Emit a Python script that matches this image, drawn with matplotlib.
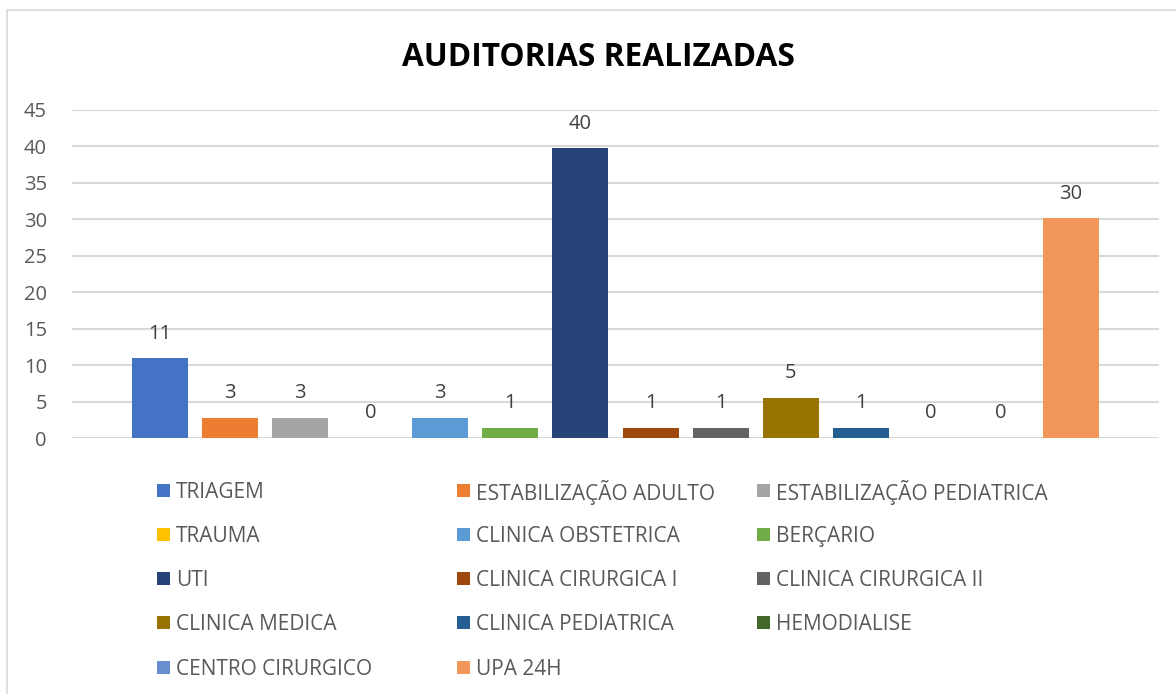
import matplotlib
matplotlib.use("Agg")
import matplotlib.pyplot as plt
from matplotlib.patches import Rectangle

categories = ["TRIAGEM", "ESTABILIZAÇÃO ADULTO", "ESTABILIZAÇÃO PEDIATRICA",
              "TRAUMA", "CLINICA OBSTETRICA", "BERÇARIO", "UTI",
              "CLINICA CIRURGICA I", "CLINICA CIRURGICA II", "CLINICA MEDICA",
              "CLINICA PEDIATRICA", "HEMODIALISE", "CENTRO CIRURGICO", "UPA 24H"]
values = [10.96, 2.74, 2.74, 0, 2.74, 1.37, 39.73, 1.37, 1.37, 5.48, 1.37, 0, 0, 30.14]
colors = ["#4472C4", "#ED7D31", "#A5A5A5", "#FFC000", "#5B9BD5", "#70AD47",
          "#264478", "#9E480E", "#636363", "#997300", "#255E91", "#43682B",
          "#698ED0", "#F1975A"]
yticks = [0, 5, 10, 15, 20, 25, 30, 35, 40, 45]
title = "AUDITORIAS REALIZADAS"

FONT = ["Open Sans", "DejaVu Sans"]
plt.rcParams['font.family'] = FONT

W, H = 1176, 694
fig = plt.figure(figsize=(W / 100, H / 100), dpi=100)
fig.patch.set_facecolor("white")

# outer chart border
fig.add_artist(Rectangle((7 / W, -0.05), 1.2, 1 - 10 / H + 0.05, transform=fig.transFigure,
                         fill=False, edgecolor="#D9D9D9", linewidth=1.2))

ax = fig.add_axes([72 / W, 1 - 438 / H, (1159 - 72) / W, (438 - 110) / H])
x = list(range(len(values)))
bars = ax.bar(x, values, width=0.8, color=colors, zorder=3)
ax.set_xlim(-1.257, 14.257)
ax.set_ylim(0, 45)
ax.set_yticks(yticks)
ax.set_yticklabels([str(t) for t in yticks])
ax.set_xticks([])
ax.grid(axis="y", color="#D9D9D9", linewidth=1.5, zorder=0)
for s in ax.spines.values():
    s.set_visible(False)
ax.tick_params(axis="y", length=0, pad=18, labelsize=14.5, labelcolor="#595959")

for xi, v in zip(x, values):
    ax.annotate(f"{v:.0f}", (xi, v), xytext=(0, 10.5), textcoords="offset points",
                ha="center", va="bottom", fontsize=14.5, color="#404040")

fig.text(598 / W, 1 - 57 / H, title, ha="center", va="center",
         fontsize=22.8, fontweight="bold", color="black")

# legend laid out row by row like the original (3 columns)
col_x = [157, 457, 757]
row_y = [490, 534, 578, 622, 667]
for i, (lab, c) in enumerate(zip(categories, colors)):
    r, cc = divmod(i, 3)
    mx, my = col_x[cc], row_y[r]
    fig.add_artist(Rectangle((mx / W, 1 - (my + 6.5) / H), 13 / W, 13 / H,
                             transform=fig.transFigure, facecolor=c, edgecolor="none"))
    fig.text((mx + 19) / W, 1 - my / H, lab, ha="left", va="center_baseline",
             fontsize=15, color="#595959")

fig.savefig("out.png", dpi=100)
